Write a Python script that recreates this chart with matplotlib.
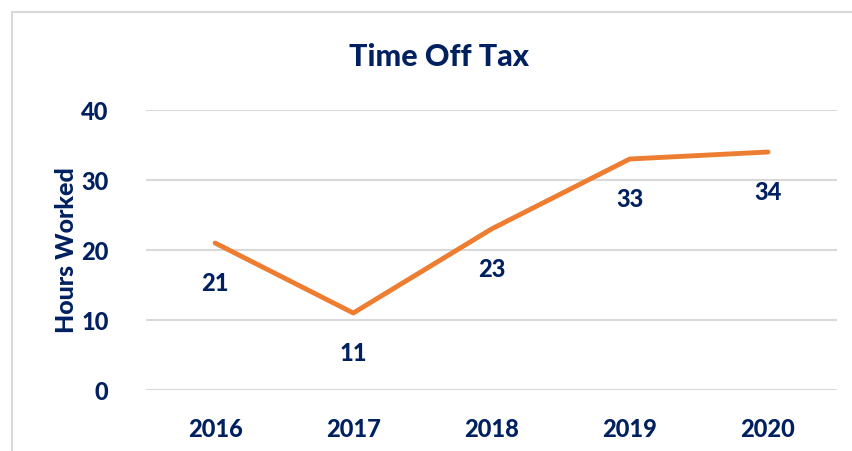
import matplotlib.pyplot as plt
import matplotlib.patches as patches

years = ['2016', '2017', '2018', '2019', '2020']
hours = [21, 11, 23, 33, 34]
y_ticks = [0, 10, 20, 30, 40]

NAVY = '#002060'
ORANGE = '#ED7D31'
WEIGHT = 'black'

plt.rcParams['font.family'] = ['Lato', 'DejaVu Sans']

fig = plt.figure(figsize=(8.52, 4.51), dpi=100)
ax = fig.add_axes([146 / 852, 1 - 390 / 451, 691 / 852, 280 / 451])

x = list(range(len(years)))
ax.plot(x, hours, color=ORANGE, lw=3.5, solid_capstyle='round', zorder=3)

for xi, v in zip(x, hours):
    ax.annotate(str(v), (xi, v), xytext=(0, -29), textcoords='offset points',
                ha='center', va='center', fontsize=17, fontweight=WEIGHT, color=NAVY)

ax.set_xlim(-0.5, len(years) - 0.5)
ax.set_ylim(0, 40)
ax.set_xticks(x)
ax.set_xticklabels(years)
ax.set_yticks(y_ticks)
ax.tick_params(axis='both', length=0, labelsize=17, labelcolor=NAVY)
ax.tick_params(axis='y', pad=27)
ax.tick_params(axis='x', pad=20)
for lbl in ax.get_xticklabels() + ax.get_yticklabels():
    lbl.set_fontweight(WEIGHT)

ax.grid(axis='y', color='#D9D9D9', lw=1.5)
ax.set_axisbelow(True)
for s in ax.spines.values():
    s.set_visible(False)

ax.set_ylabel('Hours Worked', fontsize=18, fontweight=WEIGHT, color=NAVY, labelpad=2)
fig.text(439 / 852, 1 - 57 / 451, 'Time Off Tax', ha='center', va='center',
         fontsize=22, fontweight=WEIGHT, color=NAVY)

# chart border (only top and left visible within the image)
fig.patches.append(patches.Rectangle((12 / 852, -0.1), 1.2, 1 - 12 / 451 + 0.1,
                                     transform=fig.transFigure, fill=False,
                                     edgecolor='#D9D9D9', lw=1.5))

fig.savefig('out.png', dpi=100)
